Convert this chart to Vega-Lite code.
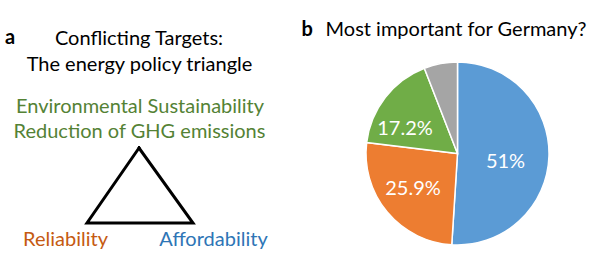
{
  "$schema": "https://vega.github.io/schema/vega-lite/v6.json",
  "width": 598,
  "height": 261,
  "padding": 0,
  "autosize": {"type": "fit", "contains": "padding"},
  "background": "white",
  "config": {"view": {"stroke": null}},
  "datasets": {
    "texts": [
      {"text": "Conflicting Targets:", "x": 139, "y": 45, "kind": "title"},
      {"text": "The energy policy triangle", "x": 139.5, "y": 71, "kind": "title"},
      {"text": "Environmental Sustainability", "x": 140, "y": 113, "kind": "env"},
      {"text": "Reduction of GHG emissions", "x": 139.5, "y": 138, "kind": "env"},
      {"text": "Reliability", "x": 65.5, "y": 246, "kind": "rel"},
      {"text": "Affordability", "x": 213.5, "y": 246, "kind": "aff"},
      {"text": "Most important for Germany?", "x": 456, "y": 36, "kind": "title"},
      {"text": "51%", "x": 505.5, "y": 168, "kind": "pie"},
      {"text": "25.9%", "x": 413, "y": 195, "kind": "pie"},
      {"text": "17.2%", "x": 405, "y": 135, "kind": "pie"}
    ],
    "panels": [
      {"text": "a", "x": 5, "y": 44},
      {"text": "b", "x": 301.5, "y": 36}
    ],
    "triangle": [
      {"i": 0, "x": 139, "y": 148},
      {"i": 1, "x": 193, "y": 223},
      {"i": 2, "x": 87, "y": 223},
      {"i": 3, "x": 139, "y": 148}
    ],
    "pie": [
      {"i": 0, "category": "Affordability", "share": 51.0},
      {"i": 1, "category": "Reliability", "share": 25.9},
      {"i": 2, "category": "Environmental Sustainability", "share": 17.2},
      {"i": 3, "category": "Other", "share": 5.9}
    ]
  },
  "layer": [
    {
      "data": {"name": "pie"},
      "mark": {"type": "arc", "outerRadius": 91.5, "stroke": "white", "strokeWidth": 1.5},
      "encoding": {
        "x": {"datum": 457.5, "type": "quantitative", "scale": {"domain": [0, 598], "nice": false, "zero": false}, "axis": null},
        "y": {"datum": 153.5, "type": "quantitative", "scale": {"domain": [0, 261], "nice": false, "zero": false, "reverse": true}, "axis": null},
        "theta": {"field": "share", "type": "quantitative", "stack": true},
        "order": {"field": "i", "type": "quantitative"},
        "color": {
          "field": "category", "type": "nominal", "legend": null,
          "scale": {"domain": ["Affordability", "Reliability", "Environmental Sustainability", "Other"], "range": ["#5B9BD5", "#ED7D31", "#70AD47", "#A5A5A5"]}
        }
      }
    },
    {
      "data": {"name": "triangle"},
      "mark": {"type": "line", "color": "black", "strokeWidth": 3, "strokeJoin": "miter", "strokeCap": "square"},
      "encoding": {
        "x": {"field": "x", "type": "quantitative", "scale": {"domain": [0, 598], "nice": false, "zero": false}, "axis": null},
        "y": {"field": "y", "type": "quantitative", "scale": {"domain": [0, 261], "nice": false, "zero": false, "reverse": true}, "axis": null},
        "order": {"field": "i", "type": "quantitative"}
      }
    },
    {
      "data": {"name": "texts"},
      "mark": {"type": "text", "font": "Lato", "fontSize": 20, "align": "center", "baseline": "alphabetic"},
      "encoding": {
        "x": {"field": "x", "type": "quantitative", "scale": {"domain": [0, 598], "nice": false, "zero": false}, "axis": null},
        "y": {"field": "y", "type": "quantitative", "scale": {"domain": [0, 261], "nice": false, "zero": false, "reverse": true}, "axis": null},
        "text": {"field": "text", "type": "nominal"},
        "color": {
          "field": "kind", "type": "nominal", "legend": null,
          "scale": {"domain": ["title", "env", "rel", "aff", "pie"], "range": ["#000000", "#548235", "#C55A11", "#2E75B6", "#FFFFFF"]}
        }
      }
    },
    {
      "data": {"name": "panels"},
      "mark": {"type": "text", "font": "Lato", "fontSize": 20, "fontWeight": "bold", "align": "left", "baseline": "alphabetic", "color": "black"},
      "encoding": {
        "x": {"field": "x", "type": "quantitative", "scale": {"domain": [0, 598], "nice": false, "zero": false}, "axis": null},
        "y": {"field": "y", "type": "quantitative", "scale": {"domain": [0, 261], "nice": false, "zero": false, "reverse": true}, "axis": null},
        "text": {"field": "text", "type": "nominal"}
      }
    }
  ],
  "resolve": {"scale": {"color": "independent"}}
}
